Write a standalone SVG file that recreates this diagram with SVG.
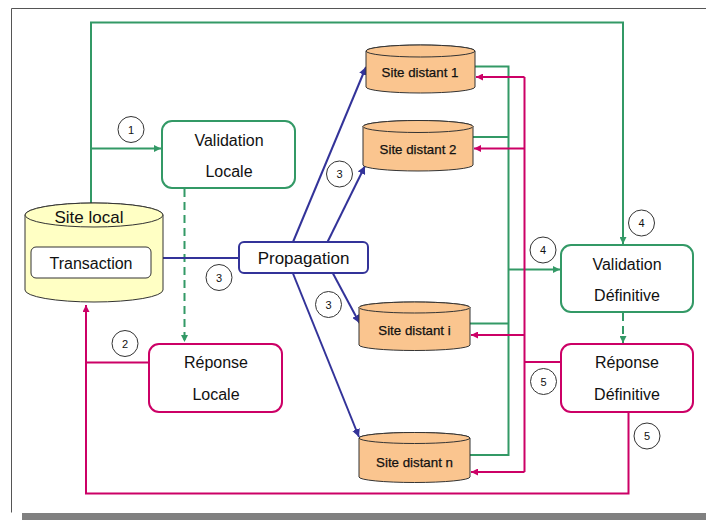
<svg xmlns="http://www.w3.org/2000/svg" width="706" height="520" viewBox="0 0 706 520">
<defs>
<style>
.t{font-family:"Liberation Sans",Arial,sans-serif;fill:#111;text-anchor:middle;dominant-baseline:central}
.big{font-size:16px}
.site{font-size:13.3px;stroke:#111;stroke-width:0.25}
.num{font-size:11px}
.g{stroke:#339966;stroke-width:2;fill:none}
.m{stroke:#cc0066;stroke-width:2;fill:none}
.b{stroke:#333399;stroke-width:2;fill:none}
.circ{fill:#fff;stroke:#333;stroke-width:1}
.cyl{fill:#fac58f;stroke:#333;stroke-width:1}
</style>
<marker id="ag" viewBox="0 0 10 10" refX="10" refY="5" markerWidth="7" markerHeight="7" markerUnits="userSpaceOnUse" orient="auto"><path d="M0,0L10,5L0,10Z" fill="#339966"/></marker>
<marker id="am" viewBox="0 0 10 10" refX="10" refY="5" markerWidth="7" markerHeight="7" markerUnits="userSpaceOnUse" orient="auto"><path d="M0,0L10,5L0,10Z" fill="#cc0066"/></marker>
<marker id="ab" viewBox="0 0 10 10" refX="10" refY="5" markerWidth="8" markerHeight="8" markerUnits="userSpaceOnUse" orient="auto"><path d="M0,0L10,5L0,10Z" fill="#333399"/></marker>
</defs>
<rect width="706" height="520" fill="#fff"/>
<!-- frame -->
<rect x="22" y="513" width="684" height="7" fill="#808080"/>
<path d="M706,8.5H11.5V512.5" fill="none" stroke="#555" stroke-width="1"/>

<g id="connectors">
<!-- green -->
<path class="g" d="M91,203V22.5H623V244" marker-end="url(#ag)"/>
<path class="g" d="M91,148.5H161" marker-end="url(#ag)"/>
<path class="g" d="M184.5,189V342" stroke-dasharray="8,5" marker-end="url(#ag)"/>
<path class="g" d="M475,66.5H508.5V455H470"/>
<path class="g" d="M473,137H508.5"/>
<path class="g" d="M470,323.5H508.5"/>
<path class="g" d="M508.5,269.5H560" marker-end="url(#ag)"/>
<path class="g" d="M623,313V343" stroke-dasharray="8,5" marker-end="url(#ag)"/>
<!-- magenta -->
<path class="m" d="M524.5,77V472"/>
<path class="m" d="M524.5,77H476" marker-end="url(#am)"/>
<path class="m" d="M524.5,148.5H474" marker-end="url(#am)"/>
<path class="m" d="M524.5,335H471" marker-end="url(#am)"/>
<path class="m" d="M524.5,472H471" marker-end="url(#am)"/>
<path class="m" d="M560,362H524.5"/>
<path class="m" d="M628.5,412V493.5H86V305" marker-end="url(#am)"/>
<path class="m" d="M149,362.5H86"/>
<!-- blue -->
<path class="b" d="M163,258H239"/>
<path class="b" d="M293,242L366,67" marker-end="url(#ab)"/>
<path class="b" d="M327.5,242L365,166" marker-end="url(#ab)"/>
<path class="b" d="M333,273.5L359.5,323" marker-end="url(#ab)"/>
<path class="b" d="M293,273.5L359,437" marker-end="url(#ab)"/>
</g>

<g id="site-local">
<path d="M25,215A69,12 0 0,1 163,215V290A69,12 0 0,1 25,290Z" fill="#ffffc4" stroke="#333" stroke-width="1"/>
<ellipse cx="94" cy="215" rx="69" ry="12" fill="#ffffc4" stroke="#333" stroke-width="1"/>
<text class="t" x="89" y="217" style="font-size:17px">Site local</text>
<rect x="31" y="247" width="120" height="31" rx="5" fill="#fff" stroke="#333" stroke-width="1"/>
<text class="t big" x="91" y="263">Transaction</text>
</g>

<g id="validation-locale">
<rect x="162" y="121" width="133" height="67" rx="10" fill="#fff" stroke="#339966" stroke-width="2"/>
<text class="t big" x="229" y="140">Validation</text>
<text class="t big" x="229" y="171">Locale</text>
</g>

<g id="reponse-locale">
<rect x="149" y="344" width="133" height="68" rx="10" fill="#fff" stroke="#cc0066" stroke-width="2"/>
<text class="t big" x="216" y="362">Réponse</text>
<text class="t big" x="216" y="394">Locale</text>
</g>

<g id="propagation">
<rect x="239" y="242" width="129" height="31" rx="5" fill="#fff" stroke="#333399" stroke-width="2"/>
<text class="t" x="303.5" y="258" style="font-size:17px">Propagation</text>
</g>

<g id="site-distant-1">
<path class="cyl" d="M366,51A54.5,6 0 0,1 475,51V87A54.5,6 0 0,1 366,87Z"/>
<ellipse class="cyl" cx="420.5" cy="51" rx="54.5" ry="6"/>
<text class="t site" x="420" y="72">Site distant 1</text>
</g>
<g id="site-distant-2">
<path class="cyl" d="M363,126.5A55,6 0 0,1 473,126.5V165A55,6 0 0,1 363,165Z"/>
<ellipse class="cyl" cx="418" cy="126.5" rx="55" ry="6"/>
<text class="t site" x="418" y="149">Site distant 2</text>
</g>
<g id="site-distant-i">
<path class="cyl" d="M359,307.5A55.5,5.5 0 0,1 470,307.5V345A55.5,5.5 0 0,1 359,345Z"/>
<ellipse class="cyl" cx="414.5" cy="307.5" rx="55.5" ry="5.5"/>
<text class="t site" x="414.5" y="330">Site distant i</text>
</g>
<g id="site-distant-n">
<path class="cyl" d="M359,438A55.5,5.5 0 0,1 470,438V477A55.5,5.5 0 0,1 359,477Z"/>
<ellipse class="cyl" cx="414.5" cy="438" rx="55.5" ry="5.5"/>
<text class="t site" x="414.5" y="462">Site distant n</text>
</g>

<g id="validation-definitive">
<rect x="561" y="245" width="132" height="67" rx="10" fill="#fff" stroke="#339966" stroke-width="2"/>
<text class="t big" x="627" y="264">Validation</text>
<text class="t big" x="627" y="295">Définitive</text>
</g>

<g id="reponse-definitive">
<rect x="561" y="344" width="132" height="68" rx="10" fill="#fff" stroke="#cc0066" stroke-width="2"/>
<text class="t big" x="627" y="362">Réponse</text>
<text class="t big" x="627" y="394">Définitive</text>
</g>

<g id="step-labels">
<circle class="circ" cx="131" cy="129.5" r="13"/><text class="t num" x="131" y="129.5">1</text>
<circle class="circ" cx="125" cy="343.5" r="13"/><text class="t num" x="125" y="343.5">2</text>
<circle class="circ" cx="219" cy="277.5" r="13"/><text class="t num" x="219" y="277.5">3</text>
<circle class="circ" cx="339.5" cy="174" r="13"/><text class="t num" x="339.5" y="174">3</text>
<circle class="circ" cx="328.5" cy="304.5" r="13"/><text class="t num" x="328.5" y="304.5">3</text>
<circle class="circ" cx="641.5" cy="223" r="13"/><text class="t num" x="641.5" y="223">4</text>
<circle class="circ" cx="543" cy="250" r="13"/><text class="t num" x="543" y="250">4</text>
<circle class="circ" cx="543.5" cy="381.5" r="13"/><text class="t num" x="543.5" y="381.5">5</text>
<circle class="circ" cx="647" cy="436" r="13"/><text class="t num" x="647" y="436">5</text>
</g>
</svg>
